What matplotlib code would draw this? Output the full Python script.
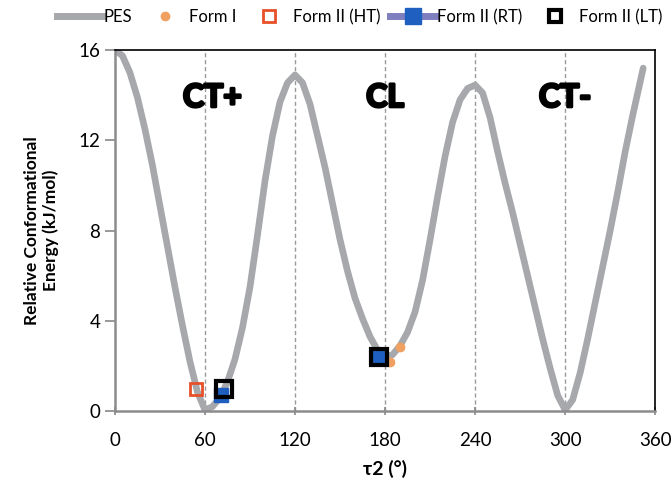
import matplotlib
matplotlib.use('Agg')
import matplotlib.pyplot as plt
import matplotlib.patheffects as pe
from matplotlib.lines import Line2D

plt.rcParams['font.family'] = ['Lato', 'DejaVu Sans']

# potential energy scan (deg, kJ/mol)
pes_tau = [0, 5, 10, 15, 20, 25, 30, 35, 40, 45, 50, 55, 60, 65, 70, 75, 80, 85,
           90, 95, 100, 105, 110, 115, 120, 125, 130, 135, 140, 145, 150, 155,
           160, 165, 170, 175, 180, 185, 190, 195, 200, 205, 210, 215, 220, 225,
           230, 235, 240, 245, 250, 255, 260, 265, 270, 275, 280, 285, 290, 295,
           300, 305, 310, 315, 320, 325, 330, 335, 340, 345, 350, 352]
pes_energy = [16.0, 15.75, 15.0, 13.9, 12.5, 10.9, 9.1, 7.3, 5.5, 3.8, 2.2, 0.85,
              0.05, 0.2, 0.6, 1.3, 2.3, 3.7, 5.5, 7.8, 10.2, 12.2, 13.7, 14.55,
              14.9, 14.55, 13.6, 12.2, 10.8, 9.2, 7.6, 6.2, 5.0, 4.1, 3.3, 2.7,
              2.4, 2.5, 2.9, 3.5, 4.4, 5.8, 7.6, 9.5, 11.3, 12.8, 13.8, 14.3,
              14.45, 14.1, 13.0, 11.5, 10.1, 8.8, 7.4, 6.0, 4.6, 3.2, 1.9, 0.7,
              0.05, 0.5, 1.7, 3.2, 4.8, 6.4, 8.0, 9.7, 11.5, 13.1, 14.6, 15.2]

form1_tau = [183, 190]
form1_energy = [2.2, 2.85]
ht_tau = [53.8, 175.5]
ht_energy = [0.96, 2.45]
rt_tau = [70.7, 176.5]
rt_energy = [0.71, 2.35]
lt_tau = [72.7, 176]
lt_energy = [0.96, 2.4]

regions = ['CT+', 'CL', 'CT-']
region_tau = [65, 180, 300]
region_energy = [13.9, 13.9, 13.9]

fig = plt.figure(figsize=(6.72, 4.86), dpi=100)
ax = fig.add_axes([0.171, 0.154, 0.804, 0.743])

for g in [60, 120, 180, 240, 300]:
    ax.axvline(g, color='#9a9a9a', lw=1, ls=(0, (3, 2)), zorder=1)

ax.plot(pes_tau, pes_energy, color='#a6a8ab', lw=4.8, solid_joinstyle='round',
        solid_capstyle='round', zorder=2)
ax.plot(form1_tau, form1_energy, 'o', color='#f0a060', ms=6, zorder=3)
ax.plot(ht_tau, ht_energy, 's', mfc='none', mec='#e8502a', mew=2, ms=8, zorder=4)
ax.plot(rt_tau, rt_energy, 's', color='#1f5fbf', ms=10, zorder=5)
ax.plot(lt_tau, lt_energy, 's', mfc='none', mec='black', mew=3, ms=11, zorder=6)

for name, t, e in zip(regions, region_tau, region_energy):
    ax.text(t, e, name, ha='center', va='center', fontsize=23, fontweight='bold',
            path_effects=[pe.withStroke(linewidth=2, foreground='black')])

ax.set_xlim(0, 360)
ax.set_ylim(0, 16)
ax.set_xticks(range(0, 361, 60))
ax.set_yticks([0, 4, 8, 12, 16])
ax.tick_params(axis='both', labelsize=13.5, color='#888888', length=6, width=1.2)
ax.tick_params(axis='x', direction='inout', pad=12)
ax.tick_params(axis='y', direction='out', length=7)

for s in ['left', 'bottom']:
    ax.spines[s].set_color('#8c8c8c')
    ax.spines[s].set_linewidth(1.8)
for s in ['top', 'right']:
    ax.spines[s].set_color('black')
    ax.spines[s].set_linewidth(1.2)

ax.set_xlabel('τ2 (°)', fontsize=14, fontweight='bold', labelpad=8)
ax.set_ylabel('Relative Conformational\nEnergy (kJ/mol)', fontsize=12.5,
              fontweight='bold', labelpad=14)

handles = [
    Line2D([], [], color='#a6a8ab', lw=5),
    Line2D([], [], ls='none', marker='o', color='#f0a060', ms=6),
    Line2D([], [], ls='none', marker='s', mfc='none', mec='#e8502a', mew=2, ms=8),
    Line2D([], [], color='#7f7fc0', lw=5, marker='s', mfc='#1f5fbf', mec='#1f5fbf', ms=11),
    Line2D([], [], ls='none', marker='s', mfc='none', mec='black', mew=3, ms=9),
]
labels = ['PES', 'Form I', 'Form II (HT)', 'Form II (RT)', 'Form II (LT)']
fig.legend(handles, labels, loc='center', bbox_to_anchor=(0.535, 0.965), ncol=5,
           frameon=False, fontsize=12, handlelength=2.7, handletextpad=0.1,
           columnspacing=0.6, borderaxespad=0)

fig.savefig('out.png', dpi=100)
